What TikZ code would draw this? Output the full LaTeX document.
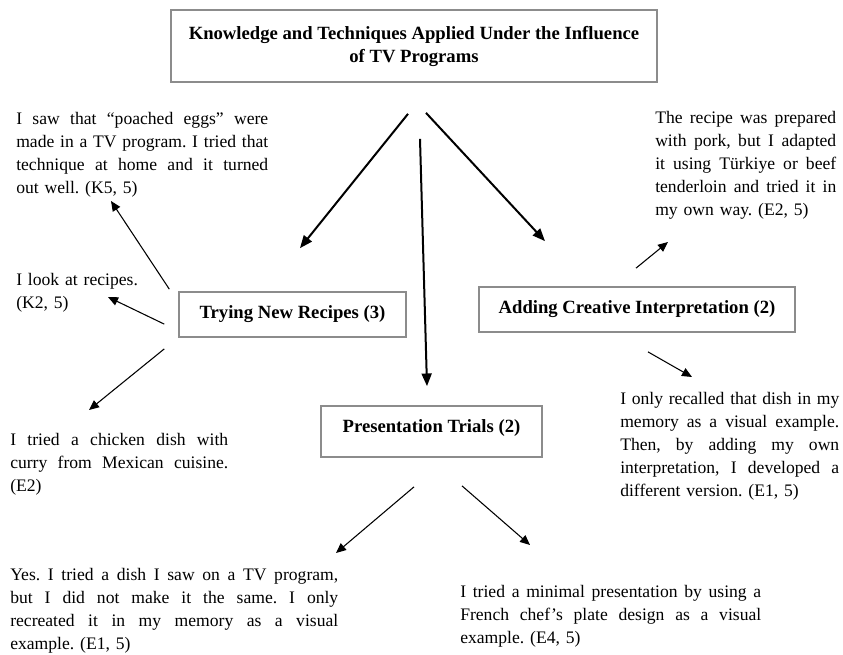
\documentclass[tikz,border=0pt]{standalone}
\usepackage{fontspec}
\setmainfont{Liberation Serif}
\usepackage{tikz}
\usetikzlibrary{arrows.meta, positioning}

\newlength{\quotewidth}
\newcommand{\jline}[1]{\leavevmode\hbox to \quotewidth{\spaceskip=0.25em plus 3em minus 0.05em\relax #1}\\}

\begin{document}
\begin{tikzpicture}[
    x=0.75pt, y=-0.75pt,
    every node/.style={font=\fontsize{13.2}{17.25}\selectfont\frenchspacing},
    topic/.style={rectangle, draw=black!45, line width=1.3pt, fill=white, font=\fontsize{14}{17.25}\selectfont\bfseries},
    saying/.style={anchor=north west, inner sep=0pt, align=left, text width=#1,
        execute at begin node={\global\quotewidth=#1\relax}},
    saying/.default=100pt,
    mainarrow/.style={-{Triangle[length=9.5pt, width=7.5pt]}, line width=1.5pt},
    subarrow/.style={-{Triangle[length=7.5pt, width=6.5pt]}, line width=0.8pt}
]
\useasboundingbox (0,0) rectangle (843,654);

\node[topic, minimum width=364.5pt, minimum height=54pt, align=center] (title) at (414,46) {Knowledge and Techniques Applied Under the Influence\\of TV Programs};
\node[topic, minimum width=170pt, minimum height=33.75pt] (trying) at (292.5,314.5) {Trying New Recipes (3)};
\node[topic, minimum width=237pt, minimum height=33.75pt] (adding) at (637,309.5) {Adding Creative Interpretation (2)};
\node[topic, minimum width=165.75pt, inner ysep=0pt, text height=19.5pt, text depth=18.75pt] (presentation) at (431.5,431.5) {Presentation Trials (2)};

\node[saying=189pt] (quoteK5) at (16,112) {\jline{I saw that “poached eggs” were}\jline{made in a TV program. I tried that}\jline{technique at home and it turned}out well. (K5, 5)};
\node[saying] (quoteK2) at (16,273) {I look at recipes.\\(K2, 5)};
\node[saying=163.5pt] (quoteChicken) at (10,433) {\jline{I tried a chicken dish with}\jline{curry from Mexican cuisine.}(E2)};
\node[saying=135.75pt] (quotePork) at (655,111) {\jline{The recipe was prepared}\jline{with pork, but I adapted}\jline{it using Türkiye or beef}\jline{tenderloin and tried it in}my own way. (E2, 5)};
\node[saying=164.25pt] (quoteRecall) at (620,392) {\jline{I only recalled that dish in my}\jline{memory as a visual example.}\jline{Then, by adding my own}\jline{interpretation, I developed a}different version. (E1, 5)};
\node[saying=246pt] (quoteDish) at (10,568) {\jline{Yes. I tried a dish I saw on a TV program,}\jline{but I did not make it the same. I only}\jline{recreated it in my memory as a visual}example. (E1, 5)};
\node[saying=225.75pt] (quoteFrench) at (460,585) {\jline{I tried a minimal presentation by using a}\jline{French chef’s plate design as a visual}example. (E4, 5)};

% arrows leave a small gap to the boxes and texts
\draw[mainarrow] ([shift={(-6,31)}]title.south) -- ([shift={(7.5,-43)}]trying.north);
\draw[mainarrow] ([shift={(6,56)}]title.south) -- ([shift={(-4.5,-19)}]presentation.north);
\draw[mainarrow] ([shift={(12,30)}]title.south) -- ([shift={(-92,-45)}]adding.north);

\draw[subarrow] ([shift={(-9,-2)}]trying.north west) -- ([shift={(95,89)}]quoteK5.north west);
\draw[subarrow] ([shift={(-14,33)}]trying.north west) -- ([shift={(92,24)}]quoteK2.north west);
\draw[subarrow] ([shift={(-14,11)}]trying.south west) -- ([shift={(79,-23)}]quoteChicken.north west);
\draw[subarrow] ([shift={(-1,-18)}]adding.north) -- ([shift={(13,131)}]quotePork.north west);
\draw[subarrow] ([shift={(11,19)}]adding.south) -- ([shift={(72,-15)}]quoteRecall.north west);
\draw[subarrow] ([shift={(-17.5,29)}]presentation.south) -- ([shift={(326,-15)}]quoteDish.north west);
\draw[subarrow] ([shift={(30.5,28)}]presentation.south) -- ([shift={(70,-40)}]quoteFrench.north west);
\end{tikzpicture}
\end{document}
